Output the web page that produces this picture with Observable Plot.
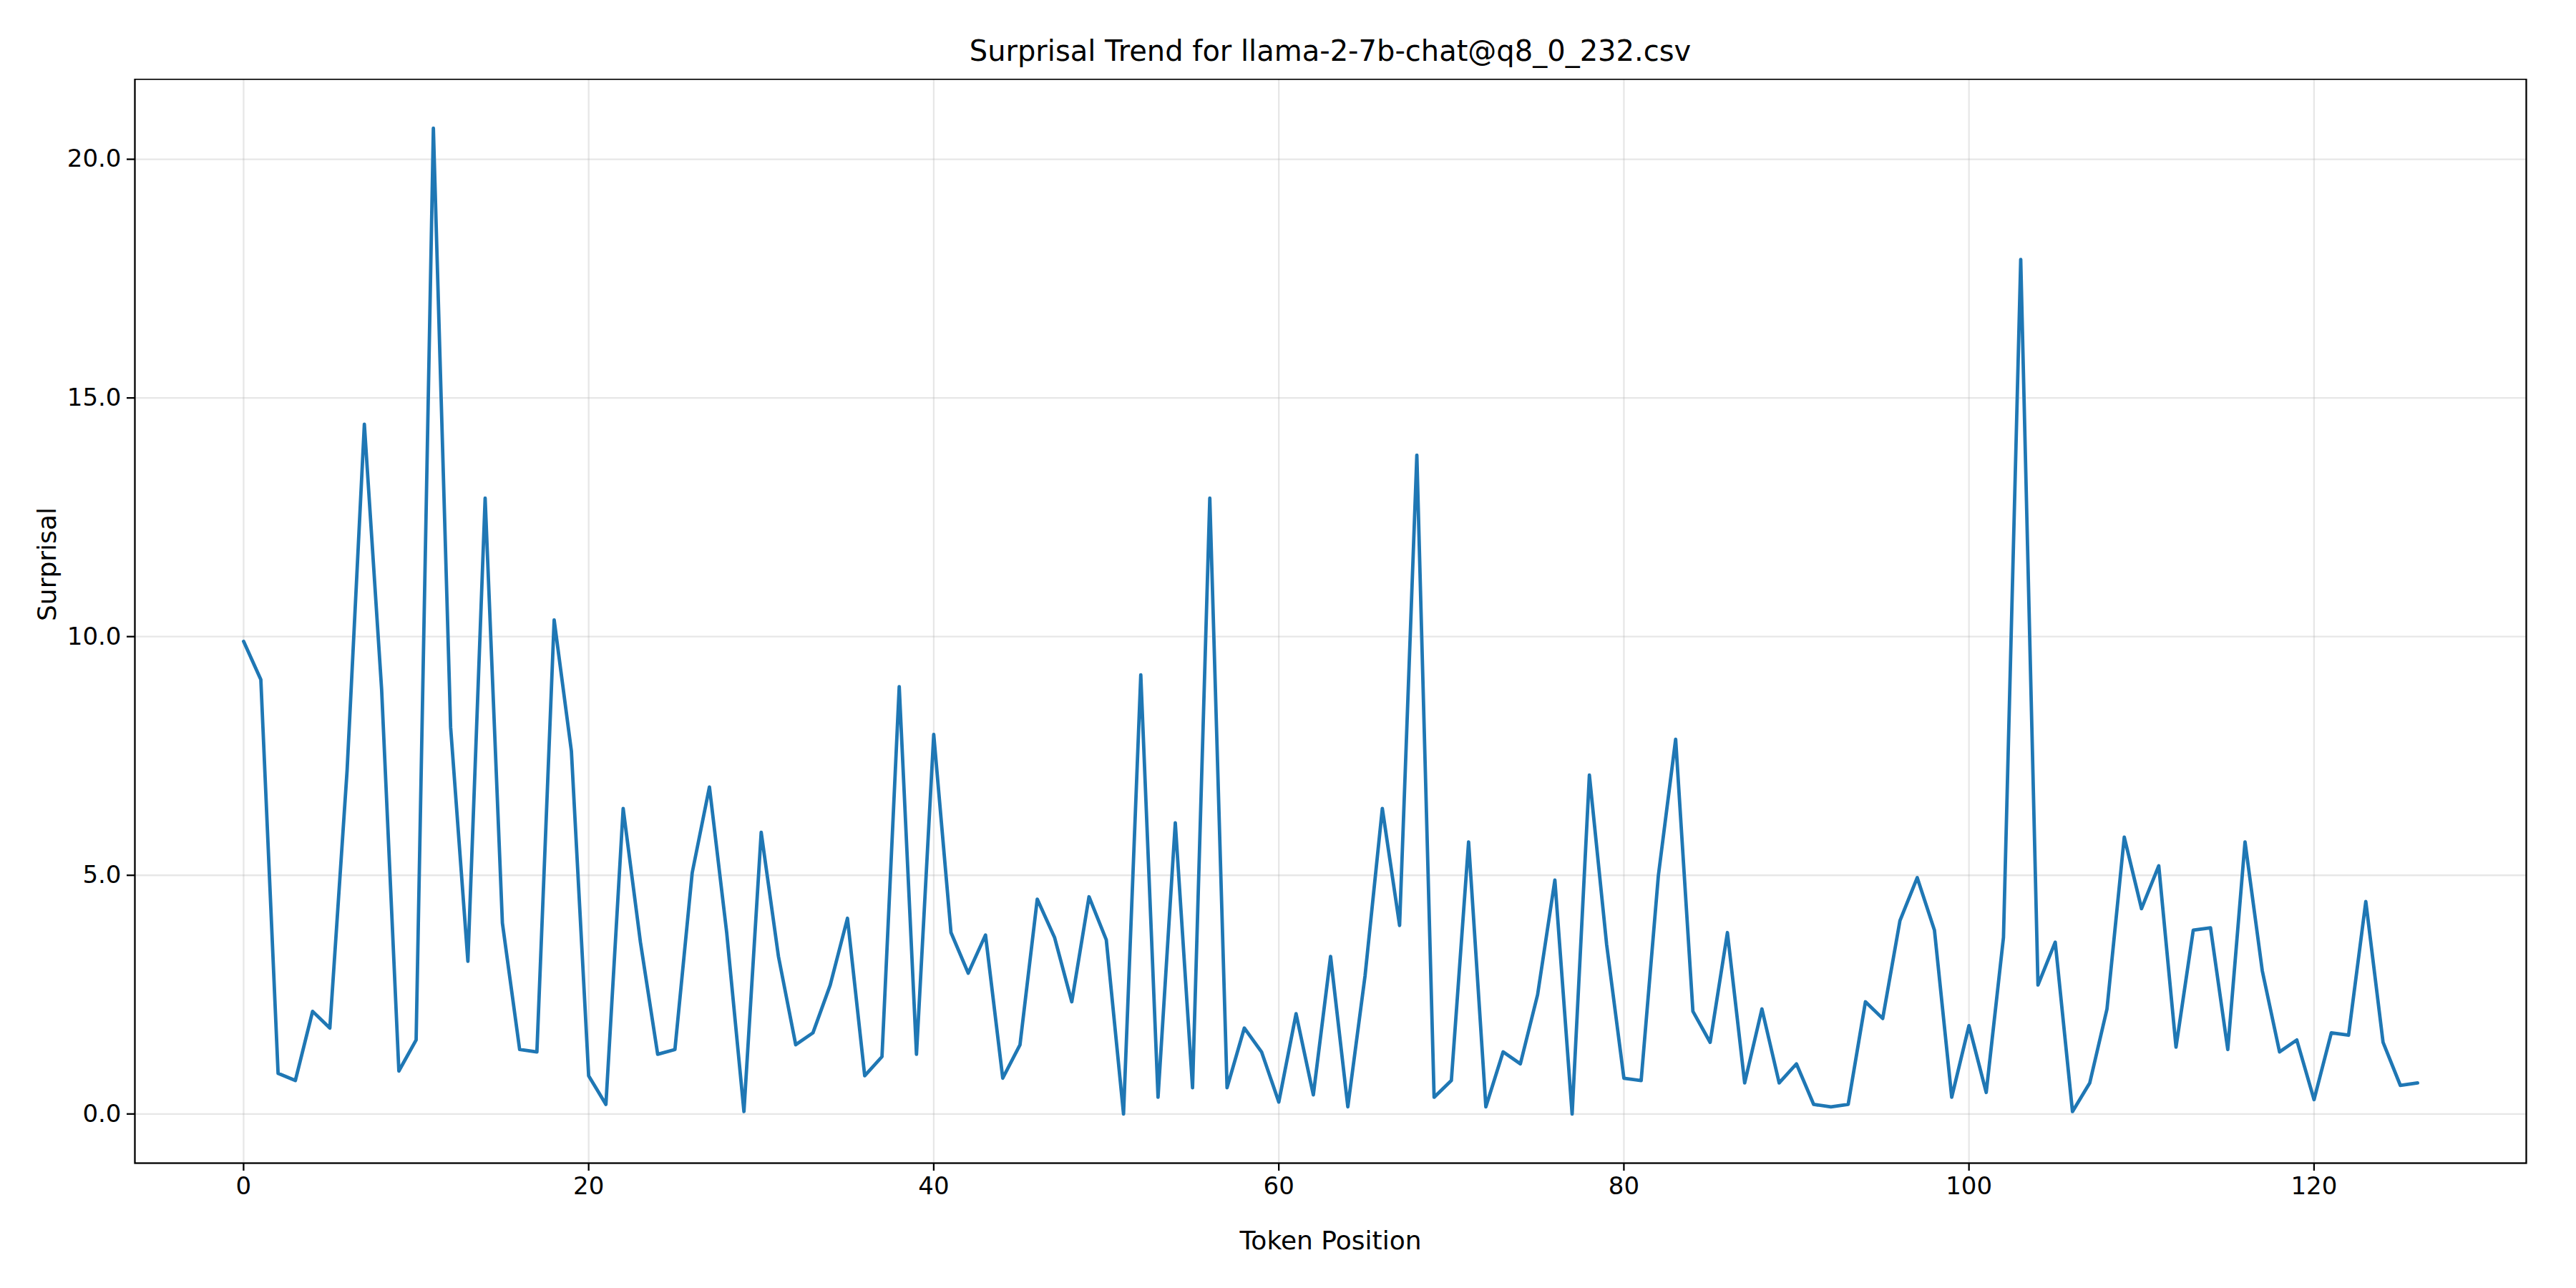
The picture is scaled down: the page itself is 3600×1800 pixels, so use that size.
<!DOCTYPE html>
<html>
<head>
<meta charset="utf-8">
<script src="https://cdn.jsdelivr.net/npm/d3@7"></script>
<script src="https://cdn.jsdelivr.net/npm/@observablehq/plot@0.6"></script>
<style>
  body { margin: 0; background: #fff; font-family: "DejaVu Sans", sans-serif; }
  #title { height: 110px; width: 3600px; position: relative; }
  #title span { position: absolute; left: 1859px; top: 48px; transform: translateX(-50%); font-size: 40px; white-space: nowrap; }
</style>
</head>
<body>
<div id="title"><span>Surprisal Trend for llama-2-7b-chat@q8_0_232.csv</span></div>
<div id="chart"></div>
<script>
const surprisal = [
  9.9, 9.1, 0.85, 0.7, 2.15, 1.8, 7.2, 14.45, 8.9, 0.9,
  1.55, 20.65, 8.1, 3.2, 12.9, 4.0, 1.35, 1.3, 10.35, 7.6,
  0.8, 0.2, 6.4, 3.6, 1.25, 1.35, 5.05, 6.85, 3.8, 0.05,
  5.9, 3.3, 1.45, 1.7, 2.7, 4.1, 0.8, 1.2, 8.95, 1.25,
  7.95, 3.8, 2.95, 3.75, 0.75, 1.45, 4.5, 3.7, 2.35, 4.55,
  3.65, 0.0, 9.2, 0.35, 6.1, 0.55, 12.9, 0.55, 1.8, 1.3,
  0.25, 2.1, 0.4, 3.3, 0.15, 2.9, 6.4, 3.95, 13.8, 0.35,
  0.7, 5.7, 0.15, 1.3, 1.05, 2.5, 4.9, 0.0, 7.1, 3.55,
  0.75, 0.7, 5.0, 7.85, 2.15, 1.5, 3.8, 0.65, 2.2, 0.65,
  1.05, 0.2, 0.15, 0.2, 2.35, 2.0, 4.05, 4.95, 3.85, 0.35,
  1.85, 0.45, 3.7, 17.9, 2.7, 3.6, 0.05, 0.65, 2.2, 5.8,
  4.3, 5.2, 1.4, 3.85, 3.9, 1.35, 5.7, 3.0, 1.3, 1.55,
  0.3, 1.7, 1.65, 4.45, 1.5, 0.6, 0.65
];
const positions = surprisal.map((_, i) => i);
const xTicks = [0, 20, 40, 60, 80, 100, 120];
const yTicks = [0, 5, 10, 15, 20];

const data = positions.map(i => ({pos: i, s: surprisal[i]}));

const chart = Plot.plot({
  width: 3600,
  height: 1690,
  marginLeft: 188,
  marginRight: 70,
  marginTop: 0,
  marginBottom: 175,
  style: {fontFamily: "DejaVu Sans", fontSize: "34px", color: "#000", background: "#fff"},
  x: {domain: [-6.3, 132.3], ticks: xTicks, tickSize: 11, tickPadding: 8, label: null},
  y: {domain: [-1.03, 21.68], ticks: yTicks, tickSize: 11, tickPadding: 8, label: null},
  marks: [
    Plot.gridX(xTicks, {stroke: "#b0b0b0", strokeOpacity: 0.3, strokeWidth: 2.3}),
    Plot.gridY(yTicks, {stroke: "#b0b0b0", strokeOpacity: 0.3, strokeWidth: 2.3}),
    Plot.line(data, {x: "pos", y: "s", stroke: "#1f77b4", strokeWidth: 4.8}),
    Plot.frame({stroke: "#000", strokeWidth: 2.3}),
    Plot.axisX(xTicks, {tickSize: 11, strokeWidth: 2.3, tickPadding: 8, fontSize: 34, label: null}),
    Plot.axisY(yTicks, {tickSize: 11, strokeWidth: 2.3, tickPadding: 8, fontSize: 34, label: null}),
    Plot.text(["Token Position"], {frameAnchor: "bottom", dy: 120, fontSize: 36}),
    Plot.text(["Surprisal"], {frameAnchor: "left", dx: -122, rotate: -90, fontSize: 36})
  ]
});
document.getElementById("chart").append(chart);
</script>
</body>
</html>
